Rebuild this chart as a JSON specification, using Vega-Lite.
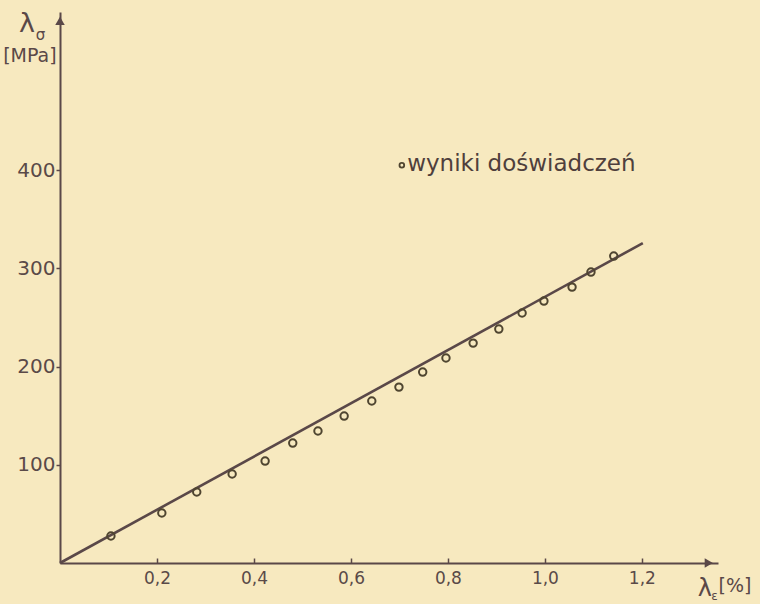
{
  "$schema": "https://vega.github.io/schema/vega-lite/v6.json",
  "width": 658,
  "height": 551,
  "autosize": {"type": "none"},
  "padding": {"left": 60, "top": 12, "right": 42, "bottom": 41},
  "background": "#f7e9bf",
  "config": {
    "view": {"stroke": null},
    "font": "DejaVu Sans"
  },
  "datasets": {
    "pts": [
      {"strain": 0.105, "stress": 27.5},
      {"strain": 0.210, "stress": 50.9},
      {"strain": 0.282, "stress": 72.3},
      {"strain": 0.355, "stress": 90.6},
      {"strain": 0.423, "stress": 103.8},
      {"strain": 0.480, "stress": 122.1},
      {"strain": 0.532, "stress": 134.4},
      {"strain": 0.586, "stress": 149.6},
      {"strain": 0.643, "stress": 164.9},
      {"strain": 0.699, "stress": 179.1},
      {"strain": 0.748, "stress": 194.4},
      {"strain": 0.796, "stress": 208.7},
      {"strain": 0.852, "stress": 223.9},
      {"strain": 0.905, "stress": 238.2},
      {"strain": 0.953, "stress": 254.5},
      {"strain": 0.998, "stress": 266.7},
      {"strain": 1.056, "stress": 280.9},
      {"strain": 1.095, "stress": 296.2},
      {"strain": 1.142, "stress": 312.5}
    ],
    "fit": [
      {"strain": 0.0, "stress": 0.0},
      {"strain": 1.202, "stress": 325.7}
    ],
    "one": [{}]
  },
  "layer": [
    {
      "data": {"name": "fit"},
      "mark": {"type": "line", "color": "#5a4848", "strokeWidth": 2.6, "clip": false},
      "encoding": {
        "x": {
          "field": "strain", "type": "quantitative",
          "scale": {"domain": [0, 1.357], "nice": false, "zero": false},
          "axis": {
            "values": [0.2, 0.4, 0.6, 0.8, 1.0, 1.2],
            "labelExpr": "replace(format(datum.value, '.1f'), '.', ',')",
            "title": null, "grid": false,
            "domainColor": "#5a4848", "domainWidth": 2,
            "tickColor": "#5a4848", "tickWidth": 1.5, "tickSize": -5,
            "labelColor": "#5a4a48", "labelFontSize": 17, "labelPadding": 12,
            "labelFont": "DejaVu Sans"
          }
        },
        "y": {
          "field": "stress", "type": "quantitative",
          "scale": {"domain": [0, 561], "nice": false, "zero": false},
          "axis": {
            "values": [100, 200, 300, 400],
            "title": null, "grid": false,
            "domainColor": "#5a4848", "domainWidth": 2,
            "tickColor": "#5a4848", "tickWidth": 1.5, "tickSize": 4,
            "labelColor": "#5a4a48", "labelFontSize": 20, "labelPadding": 1,
            "labelFont": "DejaVu Sans"
          }
        }
      }
    },
    {
      "data": {"name": "pts"},
      "mark": {"type": "point", "shape": "circle", "filled": false, "color": "#4f4530", "strokeWidth": 2, "size": 55, "opacity": 1},
      "encoding": {
        "x": {"field": "strain", "type": "quantitative"},
        "y": {"field": "stress", "type": "quantitative"}
      }
    },
    {
      "data": {"name": "one"},
      "mark": {"type": "point", "shape": "triangle-up", "filled": true, "color": "#5a4848", "size": 90, "opacity": 1, "clip": false},
      "encoding": {
        "x": {"datum": 0},
        "y": {"datum": 552}
      }
    },
    {
      "data": {"name": "one"},
      "mark": {"type": "point", "shape": "triangle-right", "filled": true, "color": "#5a4848", "size": 90, "opacity": 1, "clip": false},
      "encoding": {
        "x": {"datum": 1.338},
        "y": {"datum": 0}
      }
    },
    {
      "data": {"name": "one"},
      "mark": {"type": "point", "shape": "circle", "filled": false, "color": "#4f4530", "strokeWidth": 1.8, "size": 22, "opacity": 1},
      "encoding": {
        "x": {"datum": 0.705},
        "y": {"datum": 405}
      }
    },
    {
      "data": {"name": "one"},
      "mark": {"type": "text", "align": "left", "baseline": "middle", "fontSize": 23, "color": "#4f3f3c", "font": "DejaVu Sans", "clip": false},
      "encoding": {
        "x": {"datum": 0.716},
        "y": {"datum": 406},
        "text": {"value": "wyniki doświadczeń"}
      }
    },
    {
      "data": {"name": "one"},
      "mark": {"type": "text", "align": "center", "baseline": "middle", "fontSize": 27, "color": "#5a4848", "font": "DejaVu Sans", "clip": false},
      "encoding": {
        "x": {"datum": -0.068},
        "y": {"datum": 549},
        "text": {"value": "λ"}
      }
    },
    {
      "data": {"name": "one"},
      "mark": {"type": "text", "align": "center", "baseline": "middle", "fontSize": 15, "color": "#5a4848", "font": "DejaVu Sans", "clip": false},
      "encoding": {
        "x": {"datum": -0.040},
        "y": {"datum": 538},
        "text": {"value": "σ"}
      }
    },
    {
      "data": {"name": "one"},
      "mark": {"type": "text", "align": "center", "baseline": "middle", "fontSize": 19, "color": "#5a4848", "font": "DejaVu Sans", "clip": false},
      "encoding": {
        "x": {"datum": -0.062},
        "y": {"datum": 516},
        "text": {"value": "[MPa]"}
      }
    },
    {
      "data": {"name": "one"},
      "mark": {"type": "text", "align": "center", "baseline": "middle", "fontSize": 24, "color": "#5a4848", "font": "DejaVu Sans", "clip": false},
      "encoding": {
        "x": {"datum": 1.330},
        "y": {"datum": -26},
        "text": {"value": "λ"}
      }
    },
    {
      "data": {"name": "one"},
      "mark": {"type": "text", "align": "center", "baseline": "middle", "fontSize": 12, "color": "#5a4848", "font": "DejaVu Sans", "clip": false},
      "encoding": {
        "x": {"datum": 1.350},
        "y": {"datum": -34},
        "text": {"value": "ε"}
      }
    },
    {
      "data": {"name": "one"},
      "mark": {"type": "text", "align": "center", "baseline": "middle", "fontSize": 19, "color": "#5a4848", "font": "DejaVu Sans", "clip": false},
      "encoding": {
        "x": {"datum": 1.392},
        "y": {"datum": -23},
        "text": {"value": "[%]"}
      }
    }
  ]
}
